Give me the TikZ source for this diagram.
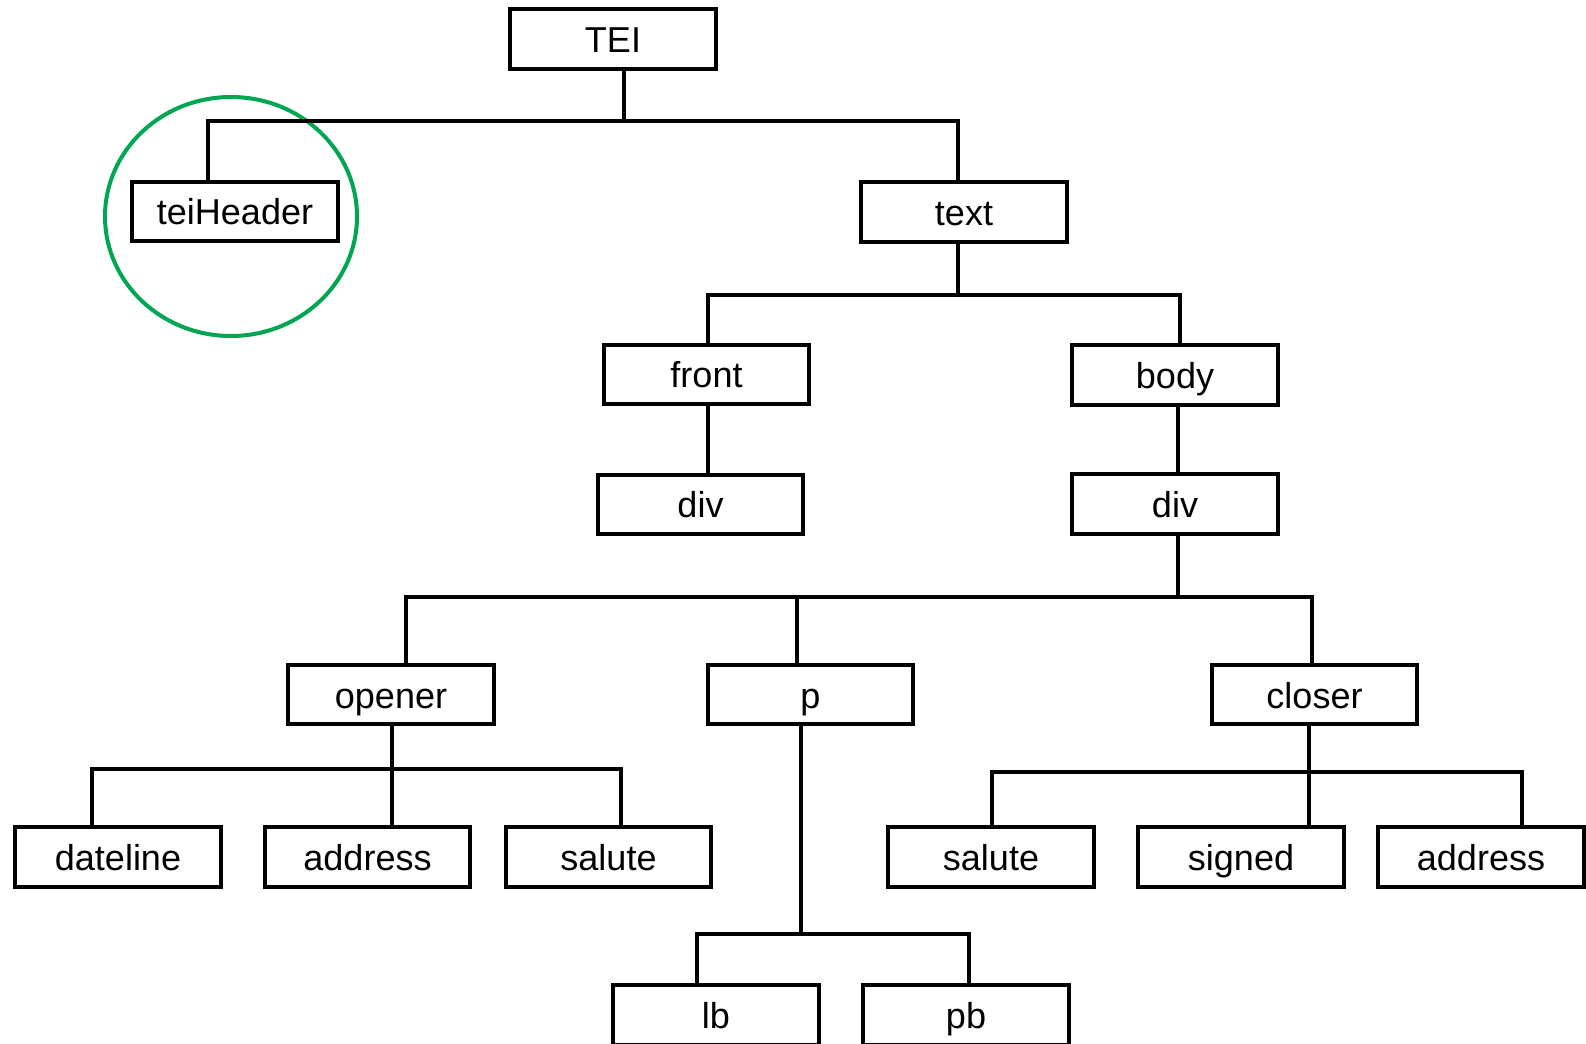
\documentclass[tikz,border=0pt]{standalone}
\usepackage{fontspec}
\setmainfont{Liberation Sans}
\definecolor{ringgreen}{RGB}{0,166,81}
\begin{document}
\begin{tikzpicture}[x=0.02cm,y=-0.02cm,
  elem/.style={draw=black,line width=0.08cm,minimum width=4.12cm,minimum height=1.2cm,
    inner sep=0pt,text height=0.54cm,text depth=0cm,
    font=\fontsize{20.5}{24}\selectfont},
  link/.style={draw=black,line width=0.08cm}]
\useasboundingbox (0,0) rectangle (1586,1044);
% nodes
\node[elem] (tei) at (613,39) {TEI};
\node[elem] (hdr) at (235,211.5) {teiHeader};
\node[elem] (txt) at (964,212) {text};
\node[elem] (front) at (706.5,374.5) {front};
\node[elem] (body) at (1175,375) {body};
\node[elem] (divA) at (700.5,504.5) {div};
\node[elem] (divB) at (1175,504) {div};
\node[elem] (opener) at (391,694.5) {opener};
\node[elem] (p) at (810.5,694.5) {p};
\node[elem] (closer) at (1314.5,694.5) {closer};
\node[elem] (dateline) at (118,857) {dateline};
\node[elem] (addrA) at (367.5,857) {address};
\node[elem] (saluteA) at (608.5,857) {salute};
\node[elem] (saluteB) at (991,857) {salute};
\node[elem] (signed) at (1241,857) {signed};
\node[elem] (addrB) at (1481,857) {address};
\node[elem] (lb) at (716,1015) {lb};
\node[elem] (pb) at (966,1015) {pb};
% green ring
\draw[ringgreen,line width=0.08cm] (231,216.5) ellipse [x radius=126,y radius=119.5];
% TEI
\coordinate (t0) at (624,121);
\coordinate (t1) at (208,121);
\coordinate (t2) at (958,121);
\draw[link] (tei.south -| t0) -- (t0);
\draw[link] (hdr.north -| t1) -- (t1) -- (t2) -- (txt.north -| t2);
% text
\coordinate (x0) at (958,295);
\coordinate (x1) at (708,295);
\coordinate (x2) at (1180,295);
\draw[link] (txt.south -| x0) -- (x0);
\draw[link] (front.north -| x1) -- (x1) -- (x2) -- (body.north -| x2);
% front / body
\coordinate (f0) at (708,0);
\draw[link] (front.south -| f0) -- (divA.north -| f0);
\coordinate (b0) at (1178,0);
\draw[link] (body.south -| b0) -- (divB.north -| b0);
% div
\coordinate (d0) at (1178,597);
\coordinate (d1) at (406,597);
\coordinate (d2) at (797,597);
\coordinate (d3) at (1312,597);
\draw[link] (divB.south -| d0) -- (d0);
\draw[link] (opener.north -| d1) -- (d1) -- (d3) -- (closer.north -| d3);
\draw[link] (d2) -- (p.north -| d2);
% opener
\coordinate (o0) at (392,769);
\coordinate (o1) at (92,769);
\coordinate (o2) at (621,769);
\draw[link] (opener.south -| o0) -- (addrA.north -| o0);
\draw[link] (dateline.north -| o1) -- (o1) -- (o2) -- (saluteA.north -| o2);
% p
\coordinate (p0) at (801,934);
\coordinate (p1) at (697,934);
\coordinate (p2) at (969,934);
\draw[link] (p.south -| p0) -- (p0);
\draw[link] (lb.north -| p1) -- (p1) -- (p2) -- (pb.north -| p2);
% closer
\coordinate (c0) at (1309,772);
\coordinate (c1) at (992,772);
\coordinate (c2) at (1522,772);
\draw[link] (closer.south -| c0) -- (signed.north -| c0);
\draw[link] (saluteB.north -| c1) -- (c1) -- (c2) -- (addrB.north -| c2);
\end{tikzpicture}
\end{document}
